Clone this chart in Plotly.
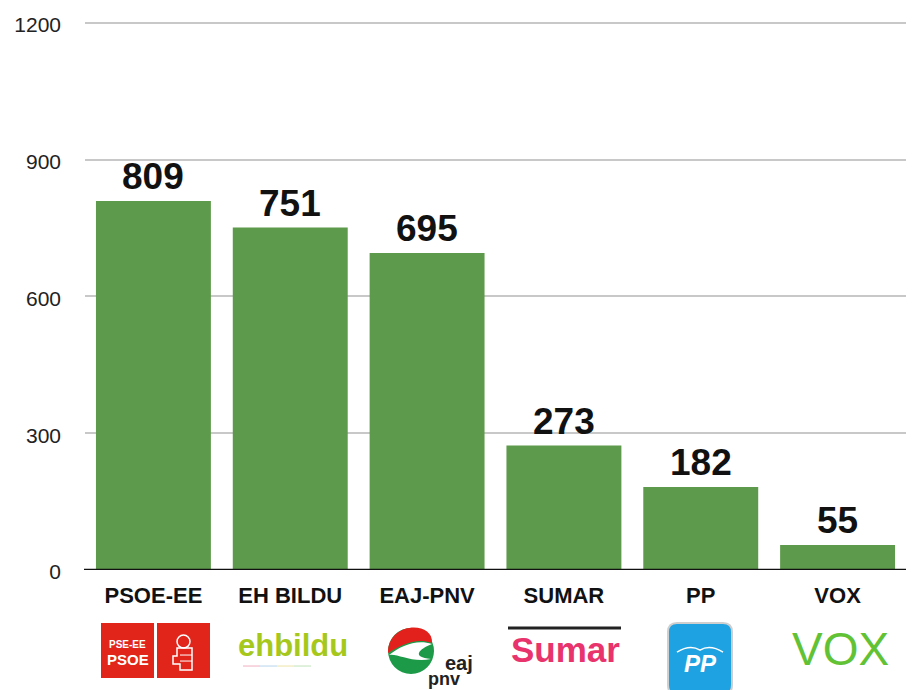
import plotly.graph_objects as go

parties = ["PSOE-EE", "EH BILDU", "EAJ-PNV", "SUMAR", "PP", "VOX"]
votes = [809, 751, 695, 273, 182, 55]
y_ticks = [0, 300, 600, 900, 1200]

BAR_COLOR = "#5e9a4b"
OFF = 8                      # page body margin of the html page
W, H = 922 - OFF, 690 - OFF
YMAX = 1206                  # a touch above 1200 so the top gridline is drawn
PL, PR, PB = 85, 906, 570    # plot area in page pixels
PT = PB - (PB - 23) * YMAX / 1200
ML, MR, MT, MB = PL - OFF, W - (PR - OFF), PT - OFF, H - (PB - OFF)
PW, PH = PR - PL, PB - PT


def px(x):
    return (x - PL) / PW


def py(y):
    return (PB - y) / PH


def path(points, close=True):
    s = "M " + " L ".join(f"{px(x):.5f},{py(y):.5f}" for x, y in points)
    return s + (" Z" if close else "")


fig = go.Figure()
fig.add_trace(go.Bar(
    x=parties, y=votes, marker=dict(color=BAR_COLOR, line=dict(width=0)),
    hoverinfo="skip", showlegend=False,
))

shapes = []
annotations = []


def label(x, y, text, size, color, family="Liberation Sans, Arial", **kw):
    d = dict(xref="paper", yref="paper", x=px(x), y=py(y), text=text,
             xanchor="center", yanchor="middle", showarrow=False,
             font=dict(family=family, size=size, color=color))
    d.update(kw)
    annotations.append(d)


# value labels
for p, v in zip(parties, votes):
    annotations.append(dict(
        x=p, y=v, xref="x", yref="y", text=f"<b>{v}</b>", showarrow=False,
        xanchor="center", yanchor="bottom", yshift=2,
        font=dict(family="Liberation Sans, Arial", size=37, color="#111111"),
    ))

# baseline
shapes.append(dict(type="line", xref="paper", yref="y", x0=px(84), x1=px(906), y0=0, y1=0,
                   line=dict(color="#111111", width=2.5), layer="above"))

# ---- logos ----
RED = "#e1251b"
# PSOE squares
shapes.append(dict(type="rect", xref="paper", yref="paper", x0=px(101), x1=px(154), y0=py(678), y1=py(623),
                   fillcolor=RED, line=dict(width=0)))
shapes.append(dict(type="rect", xref="paper", yref="paper", x0=px(157), x1=px(210), y0=py(678), y1=py(623),
                   fillcolor=RED, line=dict(width=0)))
label(127.5, 644, "<b>PSE-EE</b>", 10, "white")
label(127.5, 659, "<b>PSOE</b>", 15, "white")
# fist & rose icon
shapes.append(dict(type="circle", xref="paper", yref="paper", x0=px(177), x1=px(190), y0=py(648), y1=py(635),
                   line=dict(color="white", width=1.5)))
shapes.append(dict(type="path", xref="paper", yref="paper",
                   path=path([(177, 648), (192, 648), (192, 670), (180, 670), (180, 664), (173, 664),
                              (173, 656), (177, 656)]),
                   line=dict(color="white", width=1.5)))
shapes.append(dict(type="line", xref="paper", yref="paper", x0=px(180), x1=px(192), y0=py(655), y1=py(655),
                   line=dict(color="white", width=1)))
shapes.append(dict(type="line", xref="paper", yref="paper", x0=px(180), x1=px(192), y0=py(661), y1=py(661),
                   line=dict(color="white", width=1)))

# ehbildu
label(293, 645, "<b>ehbildu</b>", 31, "#a6c81c")
for i, c in enumerate(["#f6c9d6", "#cfe3f3", "#f3edc4", "#d5ecd0"]):
    shapes.append(dict(type="line", xref="paper", yref="paper", x0=px(243 + i * 17), x1=px(260 + i * 17),
                       y0=py(666), y1=py(666), line=dict(color=c, width=1.5)))

# EAJ-PNV roundel
cx, cy, r = 411, 651, 23
shapes.append(dict(type="circle", xref="paper", yref="paper", x0=px(cx - r), x1=px(cx + r),
                   y0=py(cy + r), y1=py(cy - r), fillcolor="#1c9a48", line=dict(width=0)))
shapes.append(dict(type="path", xref="paper", yref="paper",
                   path=(f"M {px(cx - r):.5f},{py(cy + 2):.5f} "
                         f"C {px(cx - r):.5f},{py(cy - 30):.5f} {px(cx + r):.5f},{py(cy - 30):.5f} {px(cx + r - 2):.5f},{py(cy - 8):.5f} "
                         f"C {px(cx + 5):.5f},{py(cy - 14):.5f} {px(cx - 10):.5f},{py(cy - 6):.5f} {px(cx - r):.5f},{py(cy + 2):.5f} Z"),
                   fillcolor="#e3211c", line=dict(width=0)))
shapes.append(dict(type="path", xref="paper", yref="paper",
                   path=(f"M {px(cx - r + 1):.5f},{py(cy + 4):.5f} "
                         f"C {px(cx - 10):.5f},{py(cy - 5):.5f} {px(cx + 5):.5f},{py(cy - 12):.5f} {px(cx + r - 2):.5f},{py(cy - 7):.5f} "
                         f"C {px(cx + 8):.5f},{py(cy - 2):.5f} {px(cx):.5f},{py(cy + 6):.5f} {px(cx + r - 3):.5f},{py(cy + 8):.5f} "
                         f"C {px(cx):.5f},{py(cy + 12):.5f} {px(cx - 14):.5f},{py(cy + 2):.5f} {px(cx - r + 1):.5f},{py(cy + 4):.5f} Z"),
                   fillcolor="white", line=dict(width=0)))
label(459, 663, "<b>eaj</b>", 20, "#222222")
label(444, 679, "<b>pnv</b>", 18, "#222222")

# Sumar
shapes.append(dict(type="line", xref="paper", yref="paper", x0=px(508), x1=px(621), y0=py(628), y1=py(628),
                   line=dict(color="#222222", width=3)))
label(565, 649, "<b>Sumar</b>", 35, "#e8336d")

# PP
x0, x1, y0, y1, rr = 668, 732, 623, 694, 9
rp = (f"M {px(x0 + rr):.5f},{py(y0):.5f} L {px(x1 - rr):.5f},{py(y0):.5f} "
      f"Q {px(x1):.5f},{py(y0):.5f} {px(x1):.5f},{py(y0 + rr):.5f} L {px(x1):.5f},{py(y1 - rr):.5f} "
      f"Q {px(x1):.5f},{py(y1):.5f} {px(x1 - rr):.5f},{py(y1):.5f} L {px(x0 + rr):.5f},{py(y1):.5f} "
      f"Q {px(x0):.5f},{py(y1):.5f} {px(x0):.5f},{py(y1 - rr):.5f} L {px(x0):.5f},{py(y0 + rr):.5f} "
      f"Q {px(x0):.5f},{py(y0):.5f} {px(x0 + rr):.5f},{py(y0):.5f} Z")
shapes.append(dict(type="path", xref="paper", yref="paper", path=rp, fillcolor="#1fa2e2",
                   line=dict(color="#cfcfcf", width=2)))
shapes.append(dict(type="path", xref="paper", yref="paper",
                   path=(f"M {px(677):.5f},{py(652):.5f} Q {px(690):.5f},{py(644):.5f} {px(700):.5f},{py(650):.5f} "
                         f"Q {px(710):.5f},{py(644):.5f} {px(723):.5f},{py(652):.5f}"),
                   line=dict(color="white", width=1.5)))
label(700, 663, "<b><i>PP</i></b>", 24, "white")

# VOX
label(840, 649, "VOX", 46, "#62c236")

fig.update_layout(
    width=W, height=H,
    margin=dict(l=ML, r=MR, t=MT, b=MB, pad=0, autoexpand=False),
    paper_bgcolor="white", plot_bgcolor="white",
    bargap=0.16,
    shapes=shapes, annotations=annotations,
    font=dict(family="Liberation Sans, Arial", color="#111111"),
    xaxis=dict(
        tickmode="array", tickvals=parties, ticktext=[f"<b>{p}</b>" for p in parties],
        tickfont=dict(size=22, color="#111111"), showgrid=False, showline=False, ticks="",
        ticklabelstandoff=10, range=[-0.5, 5.5], fixedrange=True, automargin=False,
    ),
    yaxis=dict(
        range=[0, YMAX], tickvals=y_ticks, ticktext=[str(t) for t in y_ticks],
        tickfont=dict(size=21, color="#222222"), showgrid=True, gridcolor="#c8c8c8", gridwidth=2,
        zeroline=False, showline=False, ticks="", ticklabelstandoff=23, ticklabelshift=2,
        fixedrange=True, automargin=False,
    ),
)

fig.write_html("out.html")
